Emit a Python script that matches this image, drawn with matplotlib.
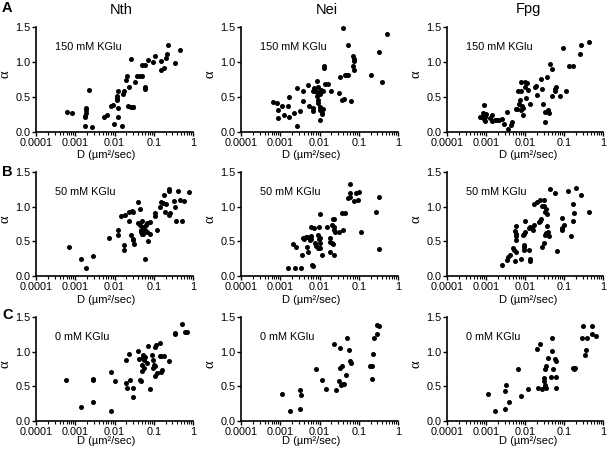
import matplotlib
matplotlib.use("Agg")
import matplotlib.pyplot as plt
from matplotlib.ticker import LogLocator, NullFormatter, NullLocator

plt.rcParams['font.family'] = ['Liberation Sans', 'DejaVu Sans']

# ---------------- data ----------------
column_titles = ["Nth", "Nei", "Fpg"]
row_letters = ["A", "B", "C"]
row_conditions = ["150 mM KGlu", "50 mM KGlu", "0 mM KGlu"]
x_ticks = [0.0001, 0.001, 0.01, 0.1, 1]
x_tick_labels = ["0.0001", "0.001", "0.01", "0.1", "1"]
y_ticks = [0.0, 0.5, 1.0, 1.5]
y_tick_labels = ["0.0", "0.5", "1.0", "1.5"]

# Row A: 150 mM KGlu
nth_150_D = [0.00060, 0.00081, 0.0022, 0.0019, 0.0019, 0.0019, 0.0018, 0.0018, 0.0018, 0.0027,
             0.0054, 0.0065, 0.0081, 0.0091, 0.0098, 0.0117, 0.0117, 0.0117, 0.0120, 0.0120,
             0.0155, 0.0126, 0.0174, 0.0165, 0.0200, 0.0204, 0.0229, 0.0219, 0.0260, 0.0290,
             0.0300, 0.0263, 0.0340, 0.0370, 0.0457, 0.0500, 0.0510, 0.0590, 0.0590, 0.0590,
             0.0710, 0.0950, 0.110, 0.155, 0.155, 0.178, 0.209, 0.214, 0.229, 0.355, 0.468]
nth_150_a = [0.29, 0.27, 0.60, 0.34, 0.32, 0.27, 0.23, 0.21, 0.08, 0.07,
             0.22, 0.25, 0.37, 0.39, 0.11, 0.51, 0.49, 0.46, 0.35, 0.22,
             0.08, 0.59, 0.59, 0.54, 0.75, 0.80, 0.65, 0.37, 0.36, 0.36,
             0.36, 1.05, 0.71, 0.80, 0.80, 0.80, 0.96, 0.96, 0.65, 0.61,
             1.03, 1.00, 1.09, 1.02, 0.88, 0.92, 1.06, 1.11, 1.24, 0.98, 1.17]

nei_150_D = [0.00065, 0.00081, 0.00087, 0.00087, 0.0011, 0.00126, 0.00155, 0.0017, 0.0017, 0.0022,
             0.0026, 0.0026, 0.0031, 0.0037, 0.0039, 0.0052, 0.0055, 0.0071, 0.0068, 0.0072,
             0.0075, 0.0068, 0.0068, 0.0085, 0.0087, 0.0088, 0.0089, 0.0090, 0.0089, 0.0100,
             0.0104, 0.0105, 0.0107, 0.0100, 0.0115, 0.0118, 0.0120, 0.0129, 0.0130, 0.0123,
             0.0138, 0.0162, 0.0200, 0.0310, 0.0330, 0.0370, 0.0410, 0.0390, 0.0457, 0.0500,
             0.0520, 0.0520, 0.0630, 0.0710, 0.0740, 0.0710, 0.0760, 0.0760, 0.209, 0.324,
             0.389, 0.537]
nei_150_a = [0.43, 0.42, 0.32, 0.20, 0.37, 0.25, 0.37, 0.50, 0.22, 0.27,
             0.63, 0.08, 0.30, 0.44, 0.59, 0.67, 0.37, 0.61, 0.59, 0.63,
             0.58, 0.34, 0.30, 0.73, 0.57, 0.51, 0.64, 0.46, 0.42, 0.36,
             0.31, 0.17, 0.60, 0.54, 0.27, 0.26, 0.33, 0.92, 0.95, 0.58,
             0.69, 0.68, 0.58, 0.56, 0.79, 0.46, 0.47, 1.48, 0.81, 0.81,
             0.82, 1.24, 0.44, 1.09, 1.02, 0.95, 1.04, 0.89, 0.81, 1.14,
             0.72, 1.40]

fpg_150_D = [0.00071, 0.00078, 0.00087, 0.00085, 0.00089, 0.00092, 0.00102, 0.00092, 0.00126, 0.0014,
             0.0014, 0.0017, 0.0019, 0.0021, 0.0026, 0.0029, 0.0035, 0.0037, 0.0045, 0.0047,
             0.0058, 0.0063, 0.0068, 0.0075, 0.0072, 0.0077, 0.0078, 0.0081, 0.0085, 0.0088,
             0.0088, 0.0098, 0.0105, 0.0102, 0.0115, 0.0120, 0.0135, 0.0178, 0.0191, 0.0204,
             0.0251, 0.0280, 0.0295, 0.0324, 0.0330, 0.0370, 0.0390, 0.0410, 0.0437, 0.0480,
             0.0500, 0.0600, 0.0610, 0.0580, 0.0780, 0.0950, 0.115, 0.132, 0.170, 0.263,
             0.275, 0.427]
fpg_150_a = [0.21, 0.22, 0.39, 0.27, 0.18, 0.21, 0.26, 0.16, 0.20, 0.25,
             0.16, 0.17, 0.17, 0.17, 0.19, 0.11, 0.29, 0.05, 0.10, 0.15,
             0.33, 0.33, 0.59, 0.46, 0.40, 0.59, 0.32, 0.72, 0.37, 0.25,
             0.34, 0.65, 0.48, 0.71, 0.70, 0.60, 0.40, 0.65, 0.66, 0.53,
             0.76, 0.62, 0.40, 0.15, 0.29, 0.78, 0.32, 0.27, 0.97, 0.90,
             0.51, 0.62, 0.64, 0.59, 0.51, 1.20, 0.58, 0.94, 0.95, 1.12,
             1.25, 1.28]

# Row B: 50 mM KGlu
nth_50_D = [0.00068, 0.0014, 0.00186, 0.0028, 0.0071, 0.0123, 0.0125, 0.0148, 0.0174, 0.0178,
            0.0186, 0.0229, 0.0235, 0.0275, 0.0260, 0.0290, 0.0300, 0.0310, 0.0300, 0.0400,
            0.0440, 0.0390, 0.0440, 0.0470, 0.0470, 0.0490, 0.0520, 0.0540, 0.0500, 0.0540,
            0.0590, 0.0600, 0.0620, 0.0660, 0.0660, 0.0710, 0.0780, 0.0800, 0.105, 0.108,
            0.120, 0.141, 0.155, 0.170, 0.186, 0.195, 0.210, 0.251, 0.260, 0.240,
            0.245, 0.324, 0.355, 0.370, 0.427, 0.470, 0.510, 0.589, 0.813]
nth_50_a = [0.42, 0.24, 0.12, 0.29, 0.55, 0.67, 0.59, 0.87, 0.37, 0.45,
            0.88, 0.92, 0.80, 0.94, 0.59, 0.54, 0.52, 0.46, 0.92, 1.07,
            0.97, 0.76, 0.74, 0.67, 0.64, 0.80, 0.70, 0.64, 0.61, 0.61,
            0.24, 0.66, 0.74, 0.76, 0.64, 0.50, 0.61, 0.78, 0.86, 0.91,
            0.67, 0.99, 1.07, 1.06, 1.17, 0.92, 1.04, 0.88, 0.91, 1.25,
            1.22, 1.08, 0.99, 0.80, 1.23, 1.10, 0.80, 1.08, 1.21]

nei_50_D = [0.0016, 0.0024, 0.0034, 0.0021, 0.0025, 0.0035, 0.0039, 0.0040, 0.0045, 0.0048,
            0.0048, 0.0062, 0.0062, 0.0058, 0.0052, 0.0065, 0.0067, 0.0062, 0.0071, 0.0078,
            0.0081, 0.0089, 0.0098, 0.0089, 0.0095, 0.0095, 0.0105, 0.0105, 0.0105, 0.0100,
            0.0115, 0.0155, 0.0186, 0.0180, 0.0182, 0.0204, 0.0224, 0.0235, 0.0210, 0.0224,
            0.0240, 0.0240, 0.0250, 0.0240, 0.0310, 0.0370, 0.0450, 0.0390, 0.0520, 0.0590,
            0.0600, 0.0610, 0.0740, 0.0870, 0.100, 0.097, 0.115, 0.282, 0.324, 0.331]
nei_50_a = [0.11, 0.12, 0.12, 0.46, 0.42, 0.31, 0.55, 0.54, 0.56, 0.56,
            0.42, 0.57, 0.54, 0.52, 0.35, 0.16, 0.14, 0.70, 0.69, 0.47,
            0.43, 0.41, 0.40, 0.59, 0.54, 0.71, 0.89, 0.47, 0.40, 0.55,
            0.30, 0.71, 0.35, 0.55, 0.49, 0.73, 0.82, 0.82, 0.47, 0.46,
            0.30, 0.66, 0.64, 0.71, 0.63, 0.91, 0.91, 0.66, 1.13, 1.32,
            1.20, 1.14, 1.08, 1.19, 1.21, 1.10, 0.64, 0.93, 1.14, 0.39]

fpg_50_D = [0.0026, 0.0034, 0.0036, 0.0042, 0.0048, 0.0051, 0.0055, 0.0057, 0.0058, 0.0058,
            0.0060, 0.0058, 0.0060, 0.0081, 0.0089, 0.0095, 0.0093, 0.0095, 0.0095, 0.0100,
            0.0102, 0.0126, 0.0138, 0.0130, 0.0138, 0.0138, 0.0155, 0.0160, 0.0170, 0.0168,
            0.0209, 0.0245, 0.0229, 0.0240, 0.0280, 0.0300, 0.0260, 0.0270, 0.0310, 0.0310,
            0.0320, 0.0340, 0.0320, 0.0360, 0.0350, 0.0370, 0.0400, 0.0420, 0.0447, 0.0590,
            0.0680, 0.0890, 0.0910, 0.0910, 0.102, 0.148, 0.123, 0.170, 0.170, 0.182,
            0.209, 0.269, 0.437]
fpg_50_a = [0.16, 0.23, 0.28, 0.30, 0.41, 0.37, 0.21, 0.65, 0.60, 0.57,
            0.52, 0.72, 0.35, 0.24, 0.59, 0.61, 0.42, 0.37, 0.45, 0.79,
            0.64, 0.69, 0.70, 0.37, 0.25, 0.22, 0.69, 0.66, 1.04, 0.73,
            1.07, 1.09, 0.78, 0.80, 1.01, 1.01, 0.82, 0.42, 0.47, 1.09,
            0.59, 0.62, 0.92, 0.90, 0.96, 0.72, 0.64, 0.57, 1.26, 1.19,
            0.36, 0.66, 0.69, 0.84, 0.73, 0.57, 1.22, 0.79, 1.04, 0.91,
            1.27, 1.17, 0.92]

# Row C: 0 mM KGlu
nth_0_D = [0.00059, 0.0014, 0.0028, 0.0029, 0.0028, 0.0081, 0.0081, 0.0105, 0.0200, 0.0200,
           0.0209, 0.0240, 0.0250, 0.0295, 0.0300, 0.0400, 0.0410, 0.0440, 0.0470, 0.0500,
           0.0500, 0.0530, 0.0530, 0.0550, 0.0610, 0.0580, 0.0680, 0.0710, 0.0780, 0.0890,
           0.0930, 0.0930, 0.100, 0.105, 0.115, 0.105, 0.110, 0.120, 0.141, 0.141,
           0.155, 0.155, 0.165, 0.178, 0.240, 0.339, 0.350, 0.525, 0.617, 0.724]
nth_0_a = [0.59, 0.20, 0.59, 0.60, 0.27, 0.70, 0.15, 0.58, 0.88, 0.55,
           0.48, 0.97, 0.59, 0.34, 0.48, 1.01, 0.89, 0.59, 0.57, 0.72,
           0.81, 0.95, 0.93, 0.88, 0.93, 0.77, 0.84, 1.08, 0.46, 0.95,
           0.88, 0.76, 0.81, 1.07, 1.10, 0.65, 0.80, 0.69, 1.12, 0.94,
           0.94, 0.71, 0.74, 0.94, 0.87, 1.27, 1.26, 1.40, 1.28, 1.29]

nei_0_D = [0.0011, 0.0018, 0.0031, 0.0033, 0.0032, 0.0083, 0.0115, 0.0145, 0.0240, 0.0269,
           0.0324, 0.0330, 0.0320, 0.0350, 0.0390, 0.0370, 0.0420, 0.0468, 0.0500, 0.0550,
           0.0620, 0.0600, 0.195, 0.219, 0.219, 0.229, 0.240, 0.300, 0.300, 0.320]
nei_0_a = [0.39, 0.15, 0.44, 0.37, 0.18, 0.75, 0.59, 0.46, 1.11, 0.45,
           1.05, 0.76, 0.57, 0.52, 0.53, 0.80, 0.54, 0.66, 1.20, 1.02,
           0.83, 0.86, 0.80, 0.80, 0.60, 0.97, 1.20, 1.38, 1.25, 1.37]

fpg_0_D = [0.0011, 0.0017, 0.0031, 0.0031, 0.0033, 0.0039, 0.0065, 0.0081, 0.0117, 0.0210,
           0.0204, 0.0240, 0.0275, 0.0310, 0.0310, 0.0320, 0.0320, 0.0324, 0.0340, 0.0355,
           0.0400, 0.0457, 0.0480, 0.0500, 0.0510, 0.0590, 0.0620, 0.0630, 0.0630, 0.170,
           0.186, 0.182, 0.295, 0.310, 0.355, 0.370, 0.380, 0.525, 0.525, 0.676]
fpg_0_a = [0.39, 0.15, 0.18, 0.43, 0.52, 0.28, 0.75, 0.36, 0.46, 0.47,
           1.04, 1.11, 0.46, 0.57, 0.62, 0.52, 0.49, 0.75, 0.47, 0.79,
           0.91, 0.64, 1.19, 1.01, 0.75, 0.89, 0.87, 0.64, 0.48, 0.77,
           0.77, 0.75, 1.19, 1.37, 0.95, 1.02, 1.19, 1.37, 1.25, 1.22]

panels = [
    [(nth_150_D, nth_150_a), (nei_150_D, nei_150_a), (fpg_150_D, fpg_150_a)],
    [(nth_50_D, nth_50_a), (nei_50_D, nei_50_a), (fpg_50_D, fpg_50_a)],
    [(nth_0_D, nth_0_a), (nei_0_D, nei_0_a), (fpg_0_D, fpg_0_a)],
]

# ---------------- layout ----------------
W, H = 608, 451
fig = plt.figure(figsize=(W / 100, H / 100), dpi=100)

col_left = [36, 241, 447]
col_width = [157, 157, 156]
row_top = [27, 172, 317]
row_height = [105, 104, 104]
xlabel_x = [0.45, 0.45, 0.52]
xlabel_off = [18, 19, 15]      # px from x axis to top of label box
title_x = [121, 327, 528]
letter_y = [8, 172, 315]

for r in range(3):
    for c in range(3):
        left = col_left[c] / W
        bottom = 1 - (row_top[r] + row_height[r]) / H
        ax = fig.add_axes([left, bottom, col_width[c] / W, row_height[r] / H])
        D, a = panels[r][c]
        ax.scatter(D, a, s=13, color='black', linewidths=0, clip_on=False, zorder=3)
        ax.set_xscale('log')
        ax.set_xlim(1e-4, 1)
        ax.set_ylim(0, 1.5)
        ax.set_xticks(x_ticks)
        ax.set_xticklabels(x_tick_labels)
        ax.xaxis.set_minor_locator(LogLocator(base=10, subs=range(2, 10), numticks=20))
        ax.xaxis.set_minor_formatter(NullFormatter())
        ax.set_yticks(y_ticks)
        ax.set_yticklabels(y_tick_labels)
        ax.yaxis.set_minor_locator(NullLocator())
        for s in ['top', 'right']:
            ax.spines[s].set_visible(False)
        for s in ['left', 'bottom']:
            ax.spines[s].set_linewidth(1.2)
        ax.tick_params(axis='both', which='major', direction='out', length=3, width=1.0,
                       labelsize=7.8, pad=1)
        ax.tick_params(axis='x', which='minor', direction='out', length=1.8, width=0.8)
        ax.set_xlabel("D (µm²/sec)", fontsize=8)
        ax.xaxis.set_label_coords(xlabel_x[c], -xlabel_off[r] / row_height[r])
        ax.set_ylabel("α", fontsize=10.5, family=['Liberation Serif', 'DejaVu Serif'])
        ax.yaxis.set_label_coords(-0.155, 0.55)
        ax.text(0.12, 0.81, row_conditions[r], transform=ax.transAxes,
                fontsize=7.8, ha='left', va='center')

for c in range(3):
    fig.text(title_x[c] / W, 1 - 9.5 / H, column_titles[c], fontsize=10.5,
             ha='center', va='center')
for r in range(3):
    fig.text(2 / W, 1 - letter_y[r] / H, row_letters[r], fontsize=10.5,
             fontweight='bold', ha='left', va='center')

fig.savefig("out.png", dpi=100)
